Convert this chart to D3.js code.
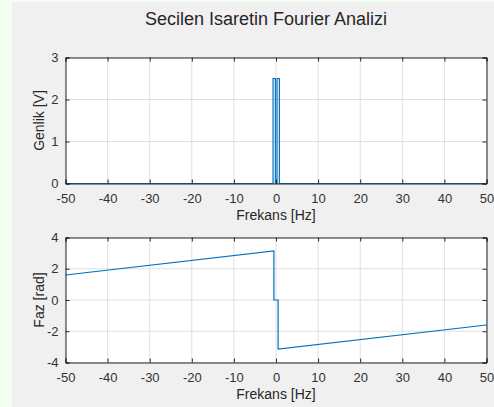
<!DOCTYPE html>
<html>
<head>
<meta charset="utf-8">
<script src="https://cdn.jsdelivr.net/npm/d3@7"></script>
<style>
html,body{margin:0;padding:0;background:#f0fff0;}
svg{display:block;}
text{font-family:"Liberation Sans",Arial,Helvetica,sans-serif;}
</style>
</head>
<body>
<svg id="chart" width="494" height="407"></svg>
<script>
// ---- data ----
const titleText = "Secilen Isaretin Fourier Analizi";
const xLabel = "Frekans [Hz]";
const ampLabel = "Genlik [V]";
const phaseLabel = "Faz [rad]";
const xTicks = [-50,-40,-30,-20,-10,0,10,20,30,40,50];
const ampTicks = [0,1,2,3];
const phaseTicks = [-4,-2,0,2,4];

// amplitude spectrum breakpoints
const ampFreq = [-50, -0.7, -0.7, -0.15, -0.15, 0.25, 0.25, 0.8, 0.8, 50];
const ampVal  = [0,    0,    2.5,  2.5,   0,     0,    2.5,  2.5, 0,   0];

// phase spectrum breakpoints
const phaseFreq = [-50, -0.5, -0.5, 0.5, 0.5, 50];
const phaseVal  = [1.6, 3.14, 0,    0,   -3.14, -1.6];

// ---- drawing ----
const svg = d3.select("#chart");
const W = 494, H = 407;
svg.append("rect").attr("x",0).attr("y",0).attr("width",W).attr("height",H).attr("fill","#f0fff0");
svg.append("rect").attr("x",12).attr("y",2).attr("width",W-12).attr("height",H-2).attr("fill","#f0f0f0");

const left = 65.5, right = 486.5;
const x = d3.scaleLinear().domain([-50,50]).range([left,right]);
const fmt = d => String(d);

svg.append("text").attr("x",266).attr("y",25).attr("text-anchor","middle")
  .attr("font-size",18).attr("fill","#262626").text(titleText);

function panel(top, bottom, yDomain, yTicks, yLab, fx, fy) {
  const y = d3.scaleLinear().domain(yDomain).range([bottom, top]);
  const g = svg.append("g");
  g.append("rect").attr("x",left).attr("y",top).attr("width",right-left).attr("height",bottom-top).attr("fill","#fff");
  // grid
  g.append("g").selectAll("line").data(xTicks).join("line")
    .attr("x1",d=>x(d)).attr("x2",d=>x(d)).attr("y1",top).attr("y2",bottom)
    .attr("stroke","#dfdfdf").attr("stroke-width",1);
  g.append("g").selectAll("line").data(yTicks).join("line")
    .attr("x1",left).attr("x2",right).attr("y1",d=>y(d)).attr("y2",d=>y(d))
    .attr("stroke","#dfdfdf").attr("stroke-width",1);
  // data line
  const pts = fx.map((f,i)=>[f, fy[i]]);
  g.append("path").datum(pts)
    .attr("d", d3.line().x(d=>x(d[0])).y(d=>y(d[1])))
    .attr("fill","none").attr("stroke","#0072BD").attr("stroke-width",1.2);
  // axes
  const ax = g.append("g").attr("transform",`translate(0,${bottom})`)
    .call(d3.axisBottom(x).tickValues(xTicks).tickSize(-4).tickPadding(10).tickFormat(fmt));
  const axT = g.append("g").attr("transform",`translate(0,${top})`)
    .call(d3.axisTop(x).tickValues(xTicks).tickSize(-4).tickFormat(""));
  const ay = g.append("g").attr("transform",`translate(${left},0)`)
    .call(d3.axisLeft(y).tickValues(yTicks).tickSize(-4).tickPadding(7).tickFormat(fmt));
  const ayR = g.append("g").attr("transform",`translate(${right},0)`)
    .call(d3.axisRight(y).tickValues(yTicks).tickSize(-4).tickFormat(""));
  [ax,axT,ay,ayR].forEach(a=>{
    a.selectAll(".domain").attr("stroke","#262626").attr("stroke-width",1);
    a.selectAll(".tick line").attr("stroke","#262626");
    a.selectAll("text").attr("font-size",13).attr("fill","#333")
      .attr("font-family","'Liberation Sans',Arial,sans-serif");
  });
  // labels
  g.append("text").attr("x",(left+right)/2).attr("y",bottom+36).attr("text-anchor","middle")
    .attr("font-size",14).attr("fill","#262626").text(xLabel);
  g.append("text").attr("transform",`translate(44,${(top+bottom)/2}) rotate(-90)`)
    .attr("text-anchor","middle").attr("font-size",14).attr("fill","#262626").text(yLab);
}

panel(57.5, 183.5, [0,3], ampTicks, ampLabel, ampFreq, ampVal);
panel(237.5, 362.5, [-4,4], phaseTicks, phaseLabel, phaseFreq, phaseVal);
</script>
</body>
</html>
